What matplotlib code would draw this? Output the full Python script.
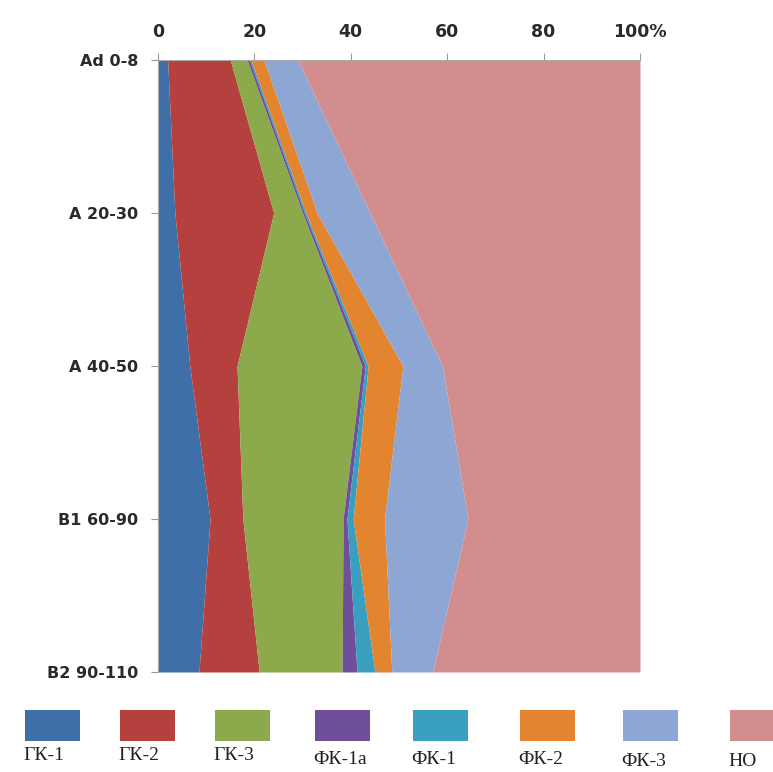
import numpy as np
import matplotlib
matplotlib.use('Agg')
from matplotlib import pyplot as plt
from matplotlib.patches import Rectangle

# horizons (top to bottom)
horizons = ['Ad 0-8', 'A 20-30', 'A 40-50', 'B1 60-90', 'B2 90-110']

# share of each fraction, %
gk1 = [2.0, 3.5, 6.6, 10.8, 8.5]
gk2 = [13.0, 20.5, 9.8, 6.8, 12.5]
gk3 = [3.5, 6.0, 25.9, 20.8, 17.2]
fk1a = [0.5, 0.4, 0.7, 0.8, 3.1]
fk1 = [0.3, 0.3, 0.6, 1.3, 3.7]
fk2 = [2.7, 2.3, 7.2, 6.5, 3.5]
fk3 = [7.0, 11.0, 8.2, 17.3, 8.5]
no = [71.0, 56.0, 41.0, 35.7, 43.0]

names = ['ГК-1', 'ГК-2', 'ГК-3', 'ФК-1а', 'ФК-1', 'ФК-2', 'ФК-3', 'НО']
colors = ['#3f6fa8', '#b5413f', '#8caa4b', '#6f4e9a', '#3a9fbe', '#e3852f', '#8ea6d4', '#d28e8e']

series = np.array([gk1, gk2, gk3, fk1a, fk1, fk2, fk3, no])
series = series / series.sum(axis=0) * 100  # 100% stacked
cum = np.vstack([np.zeros(len(horizons)), np.cumsum(series, axis=0)])

fig = plt.figure(figsize=(7.73, 7.72), dpi=100)
ax = fig.add_axes([158 / 773, 1 - 672 / 772, (640 - 158) / 773, (672 - 60) / 772])

y = np.arange(len(horizons))
for i in range(len(names)):
    ax.fill_betweenx(y, cum[i], cum[i + 1], color=colors[i], lw=0)

ax.set_xlim(0, 100)
ax.set_ylim(len(horizons) - 1, 0)
ax.xaxis.tick_top()
ax.set_xticks([0, 20, 40, 60, 80, 100])
ax.set_xticklabels(['0', '20', '40', '60', '80', '100%'], fontsize=12.5, fontweight='bold')
ax.set_yticks(y)
ax.set_yticklabels(horizons, fontsize=11.5, fontweight='bold')
ax.tick_params(axis='both', colors='#999999', length=5, width=0.8, pad=9)
for lab in ax.get_xticklabels() + ax.get_yticklabels():
    lab.set_color('#2a2a2a')
for s in ['right', 'bottom']:
    ax.spines[s].set_visible(False)
for s in ['top', 'left']:
    ax.spines[s].set_color('#aaaaaa')
    ax.spines[s].set_linewidth(0.8)

# legend along the bottom, labels under the swatches
lax = fig.add_axes([0, 0, 1, 1], zorder=-1)
lax.set_xlim(0, 773)
lax.set_ylim(772, 0)
lax.axis('off')
leg_x = [25, 120, 215, 315, 413, 520, 623, 730]
lab_y = [755, 755, 756, 760, 760, 760, 762, 762]
for i, name in enumerate(names):
    lax.add_patch(Rectangle((leg_x[i], 710), 55, 31, color=colors[i], lw=0))
    lax.text(leg_x[i] - 2, lab_y[i], name, fontsize=14, family='Liberation Serif',
             va='center', ha='left', color='#222222')

fig.savefig('out.png', dpi=100)
